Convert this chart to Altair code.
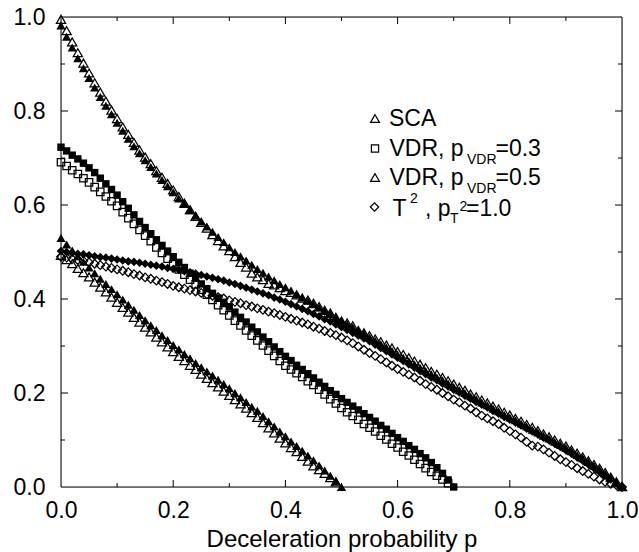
import altair as alt
import pandas as pd

# ---------------- data ----------------
P = [round(i * 0.01, 2) for i in range(101)]

# SCA, simulation (open triangles)
sca_open = [0.995, 0.971, 0.947, 0.924, 0.902, 0.881, 0.860, 0.840, 0.821, 0.802,
            0.784, 0.766, 0.750, 0.733, 0.717, 0.702, 0.688, 0.673, 0.659, 0.646,
            0.632, 0.618, 0.604, 0.590, 0.576, 0.563, 0.551, 0.537, 0.524, 0.513,
            0.503, 0.490, 0.478, 0.468, 0.455, 0.447, 0.441, 0.433, 0.430, 0.424,
            0.418, 0.414, 0.409, 0.402, 0.398, 0.391, 0.384, 0.376, 0.370, 0.361,
            0.353, 0.349, 0.343, 0.333, 0.328, 0.322, 0.315, 0.309, 0.302, 0.296,
            0.288, 0.282, 0.275, 0.268, 0.261, 0.254, 0.246, 0.240, 0.233, 0.226,
            0.219, 0.212, 0.206, 0.198, 0.192, 0.185, 0.179, 0.172, 0.166, 0.159,
            0.153, 0.146, 0.140, 0.133, 0.127, 0.120, 0.113, 0.107, 0.100, 0.093,
            0.087, 0.079, 0.072, 0.064, 0.056, 0.048, 0.040, 0.031, 0.021, 0.011,
            0.001]
# SCA, theory (filled triangles)
sca_filled = [0.982, 0.958, 0.935, 0.912, 0.891, 0.870, 0.850, 0.830, 0.811, 0.793,
              0.775, 0.758, 0.741, 0.725, 0.710, 0.695, 0.681, 0.667, 0.653, 0.640,
              0.627, 0.614, 0.602, 0.589, 0.577, 0.565, 0.554, 0.543, 0.532, 0.521,
              0.510, 0.500, 0.491, 0.482, 0.473, 0.464, 0.456, 0.448, 0.440, 0.432,
              0.425, 0.418, 0.410, 0.403, 0.396, 0.389, 0.382, 0.375, 0.368, 0.361,
              0.354, 0.347, 0.340, 0.333, 0.326, 0.318, 0.311, 0.304, 0.297, 0.290,
              0.282, 0.275, 0.268, 0.261, 0.254, 0.247, 0.240, 0.233, 0.227, 0.220,
              0.213, 0.206, 0.200, 0.193, 0.187, 0.180, 0.174, 0.167, 0.161, 0.154,
              0.148, 0.142, 0.135, 0.129, 0.122, 0.116, 0.109, 0.103, 0.096, 0.090,
              0.083, 0.076, 0.068, 0.061, 0.053, 0.045, 0.037, 0.028, 0.019, 0.010,
              0.000]
# VDR p_VDR=0.3, simulation (open squares)
vdr3_open = [0.691, 0.683, 0.674, 0.666, 0.657, 0.648, 0.638, 0.628, 0.618, 0.608,
             0.598, 0.585, 0.572, 0.560, 0.547, 0.535, 0.523, 0.510, 0.498, 0.486,
             0.474, 0.463, 0.452, 0.441, 0.431, 0.420, 0.409, 0.398, 0.387, 0.376,
             0.365, 0.354, 0.344, 0.333, 0.322, 0.312, 0.301, 0.290, 0.279, 0.268,
             0.258, 0.250, 0.242, 0.234, 0.225, 0.217, 0.207, 0.197, 0.187, 0.178,
             0.168, 0.159, 0.151, 0.143, 0.134, 0.126, 0.118, 0.109, 0.101, 0.092,
             0.084, 0.075, 0.067, 0.058, 0.049, 0.040, 0.032, 0.024, 0.016, 0.008]
# VDR p_VDR=0.3, theory (filled squares)
vdr3_filled = [0.723, 0.715, 0.706, 0.698, 0.689, 0.679, 0.669, 0.657, 0.645, 0.633,
               0.621, 0.607, 0.593, 0.579, 0.565, 0.552, 0.539, 0.526, 0.514, 0.502,
               0.490, 0.478, 0.467, 0.455, 0.444, 0.432, 0.422, 0.412, 0.402, 0.393,
               0.383, 0.372, 0.361, 0.351, 0.340, 0.330, 0.319, 0.309, 0.298, 0.288,
               0.278, 0.269, 0.259, 0.250, 0.241, 0.232, 0.223, 0.214, 0.205, 0.197,
               0.188, 0.180, 0.172, 0.164, 0.156, 0.148, 0.140, 0.131, 0.123, 0.114,
               0.105, 0.097, 0.088, 0.080, 0.071, 0.062, 0.052, 0.041, 0.029, 0.015,
               0.000]
# VDR p_VDR=0.5, simulation (open triangles)
vdr5_open = [0.493, 0.484, 0.475, 0.465, 0.456, 0.447, 0.436, 0.425, 0.415, 0.404,
             0.393, 0.382, 0.372, 0.361, 0.351, 0.340, 0.330, 0.319, 0.309, 0.298,
             0.288, 0.278, 0.269, 0.259, 0.250, 0.240, 0.231, 0.222, 0.213, 0.204,
             0.195, 0.186, 0.177, 0.168, 0.158, 0.148, 0.137, 0.126, 0.115, 0.104,
             0.094, 0.084, 0.075, 0.065, 0.055, 0.045, 0.037, 0.029, 0.020, 0.011]
# VDR p_VDR=0.5, theory (filled triangles)
vdr5_filled = [0.530, 0.516, 0.503, 0.491, 0.479, 0.467, 0.455, 0.443, 0.432, 0.421,
               0.410, 0.399, 0.388, 0.377, 0.366, 0.355, 0.344, 0.334, 0.323, 0.313,
               0.302, 0.293, 0.283, 0.274, 0.264, 0.255, 0.246, 0.237, 0.228, 0.219,
               0.210, 0.200, 0.191, 0.181, 0.171, 0.162, 0.151, 0.140, 0.129, 0.118,
               0.108, 0.097, 0.087, 0.077, 0.067, 0.057, 0.046, 0.035, 0.024, 0.013,
               0.000]
# T^2, simulation (open diamonds)
t2_open = [0.490, 0.488, 0.485, 0.483, 0.481, 0.478, 0.475, 0.472, 0.469, 0.466,
           0.463, 0.460, 0.457, 0.453, 0.450, 0.446, 0.443, 0.439, 0.436, 0.432,
           0.428, 0.425, 0.422, 0.419, 0.416, 0.413, 0.410, 0.407, 0.404, 0.401,
           0.397, 0.394, 0.391, 0.387, 0.384, 0.380, 0.377, 0.373, 0.370, 0.366,
           0.362, 0.358, 0.354, 0.350, 0.346, 0.341, 0.337, 0.332, 0.328, 0.323,
           0.318, 0.312, 0.306, 0.299, 0.292, 0.285, 0.279, 0.272, 0.265, 0.258,
           0.251, 0.245, 0.239, 0.233, 0.226, 0.219, 0.213, 0.207, 0.200, 0.193,
           0.186, 0.180, 0.173, 0.167, 0.159, 0.152, 0.146, 0.140, 0.134, 0.126,
           0.119, 0.112, 0.105, 0.096, 0.088, 0.086, 0.080, 0.073, 0.066, 0.059,
           0.053, 0.047, 0.040, 0.034, 0.028, 0.022, 0.016, 0.011, 0.007, 0.004,
           0.000]
# T^2, theory (filled diamonds)
t2_filled = [0.502, 0.500, 0.498, 0.496, 0.495, 0.493, 0.491, 0.489, 0.488, 0.486,
             0.484, 0.482, 0.480, 0.479, 0.477, 0.475, 0.473, 0.471, 0.469, 0.466,
             0.464, 0.462, 0.459, 0.457, 0.454, 0.451, 0.448, 0.445, 0.442, 0.439,
             0.435, 0.432, 0.428, 0.424, 0.420, 0.416, 0.412, 0.408, 0.403, 0.399,
             0.394, 0.389, 0.384, 0.379, 0.374, 0.368, 0.363, 0.357, 0.352, 0.346,
             0.340, 0.334, 0.328, 0.322, 0.316, 0.310, 0.303, 0.296, 0.289, 0.282,
             0.275, 0.268, 0.261, 0.254, 0.247, 0.240, 0.233, 0.227, 0.220, 0.214,
             0.207, 0.201, 0.194, 0.188, 0.181, 0.175, 0.169, 0.162, 0.156, 0.149,
             0.143, 0.137, 0.131, 0.124, 0.118, 0.112, 0.105, 0.099, 0.092, 0.085,
             0.078, 0.071, 0.063, 0.056, 0.048, 0.040, 0.032, 0.024, 0.016, 0.008,
             0.000]

major_ticks = [0.2, 0.4, 0.6, 0.8]
minor_ticks = [0.1, 0.3, 0.5, 0.7, 0.9]
tick_labels = [0.0, 0.2, 0.4, 0.6, 0.8, 1.0]

# ---------------- layout ----------------
W, H = 561, 470
FONT = "Liberation Sans"
FS = 23
SUB = 14

xs = alt.Scale(domain=[0, 1], nice=False, zero=False)
ys = alt.Scale(domain=[0, 1], nice=False, zero=False)

AX = alt.Axis(values=tick_labels, format=".1f", title="Deceleration probability p",
              ticks=False, domain=False, grid=False, labelPadding=12,
              labelFont=FONT, labelFontSize=FS, labelColor="black",
              labelFlush=False, labelOverlap=False,
              titleFont=FONT, titleFontSize=24, titleFontWeight="normal",
              titleColor="black", titlePadding=5)
AY = alt.Axis(values=tick_labels, format=".1f", title=None,
              ticks=False, domain=False, grid=False, labelPadding=16,
              labelFont=FONT, labelFontSize=FS, labelColor="black",
              labelFlush=False, labelOverlap=False)


def frame(vals):
    return pd.DataFrame({"p": P[:len(vals)], "v": vals})


def pts(vals, shape, size, filled):
    return alt.Chart(frame(vals)).mark_point(
        shape=shape, size=size, filled=filled, opacity=1,
        color="black", strokeWidth=1.25
    ).encode(x=alt.X("p:Q", scale=xs, axis=AX),
             y=alt.Y("v:Q", scale=ys, axis=AY))


def xticks(vals, length):
    df = pd.DataFrame({"t": vals})
    base = alt.Chart(df).mark_rule(color="black", strokeWidth=1)
    bottom = base.encode(x=alt.X("t:Q", scale=xs, axis=AX),
                         y=alt.value(H), y2=alt.value(H - length))
    top = base.encode(x=alt.X("t:Q", scale=xs, axis=AX),
                      y=alt.value(0), y2=alt.value(length))
    return [bottom, top]


def yticks(vals, length):
    df = pd.DataFrame({"t": vals})
    base = alt.Chart(df).mark_rule(color="black", strokeWidth=1)
    left = base.encode(y=alt.Y("t:Q", scale=ys, axis=AY),
                       x=alt.value(0), x2=alt.value(length))
    right = base.encode(y=alt.Y("t:Q", scale=ys, axis=AY),
                        x=alt.value(W), x2=alt.value(W - length))
    return [left, right]


one = pd.DataFrame({"k": [0]})


def border(x, x2, y, y2):
    return alt.Chart(one).mark_rule(color="black", strokeWidth=1).encode(
        x=alt.value(x), x2=alt.value(x2), y=alt.value(y), y2=alt.value(y2))


def txt(s, x, y, size=FS):
    return alt.Chart(one).mark_text(
        align="left", baseline="alphabetic", font=FONT, fontSize=size,
        color="black"
    ).encode(x=alt.value(x), y=alt.value(y), text=alt.value(s))


def sym(shape, size, x, y):
    return alt.Chart(one).mark_point(
        shape=shape, size=size, filled=False, opacity=1, color="black",
        strokeWidth=1.2
    ).encode(x=alt.value(x), y=alt.value(y))


TRI, SQ, DIA = 85, 55, 74

layers = [
    pts(t2_filled, "diamond", DIA, True),
    pts(vdr5_filled, "triangle-up", TRI, True),
    pts(vdr3_filled, "square", SQ, True),
    pts(sca_filled, "triangle-up", TRI, True),
    pts(t2_open, "diamond", DIA, False),
    pts(vdr5_open, "triangle-up", TRI, False),
    pts(vdr3_open, "square", SQ, False),
    pts(sca_open, "triangle-up", TRI, False),
]
layers += xticks(major_ticks, 7) + xticks(minor_ticks, 4)
layers += yticks(major_ticks, 7) + yticks(minor_ticks, 4)
layers += [
    border(0, W, 0, 0), border(0, W, H, H),
    border(0, 0, 0, H), border(W, W, 0, H),
]

# legend (built by hand because of sub/superscripts)
layers += [
    sym("triangle-up", 80, 314, 101.5),
    txt("SCA", 328, 109),
    sym("square", 52, 314, 131.5),
    txt("VDR, p", 328.5, 139),
    txt("VDR", 406, 146.5, SUB),
    txt("=0.3", 434.5, 139),
    sym("triangle-up", 80, 314, 160.5),
    txt("VDR, p", 328.5, 168),
    txt("VDR", 406, 175.5, SUB),
    txt("=0.5", 434.5, 168),
    sym("diamond", 70, 313.5, 190),
    txt("T", 331.5, 199),
    txt("2", 349, 186, SUB),
    txt(", p", 364, 199),
    txt("T", 389, 206, SUB),
    txt("2", 398.5, 194, SUB),
    txt("=1.0", 405, 199),
]

chart = alt.layer(*layers).properties(
    width=W, height=H,
    padding={"left": 61, "top": 17, "right": 17, "bottom": 65},
    autosize=alt.AutoSizeParams(type="none"),
).configure_view(stroke=None).configure(background="white")

chart.save("out.html", embed_options={"renderer": "svg", "actions": False})
